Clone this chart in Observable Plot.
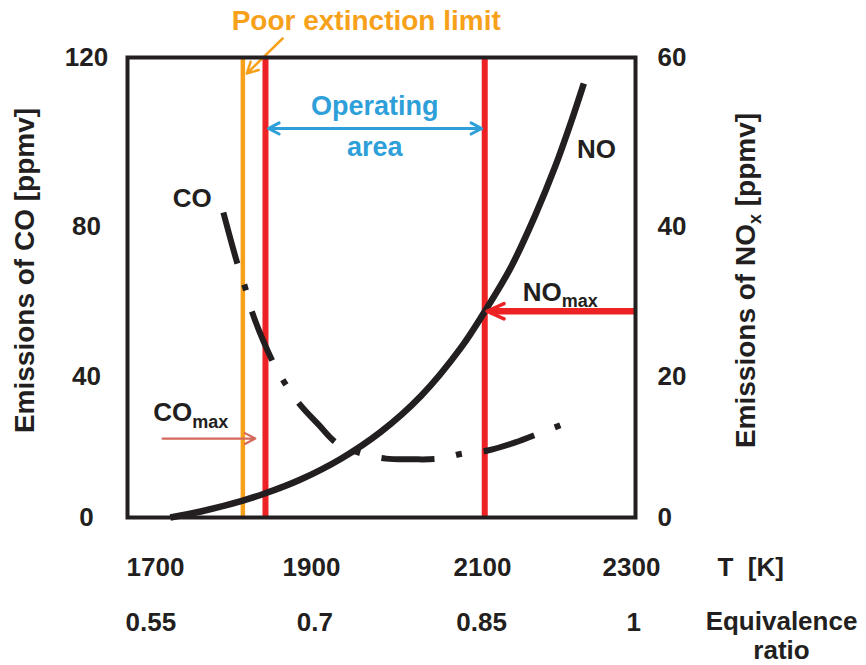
<!DOCTYPE html>
<html><head><meta charset="utf-8">
<script src="https://cdn.jsdelivr.net/npm/d3@7"></script>
<script src="https://cdn.jsdelivr.net/npm/@observablehq/plot@0.6"></script>
<style>html,body{margin:0;padding:0;background:#fff}</style>
</head><body><div id="chart"></div>
<script>
// ---- data ----
const T_TICKS = [1700, 1900, 2100, 2300];
const CO_TICKS = [0, 40, 80, 120];
const NOX_TICKS = [0, 20, 40, 60];
const PHI_LABELS = ["0.55", "0.7", "0.85", "1"];
const PHI_AT_T = [1694, 1904, 2099, 2303];

const NO_T   = [1719, 1758, 1812, 1840, 1886, 1934, 1981, 2028, 2074, 2103, 2138, 2171, 2198, 2218, 2236];
const NO_NOX = [0.0, 0.85, 2.41, 3.40, 5.39, 8.30, 12.14, 17.23, 23.71, 28.67, 34.53, 41.38, 47.20, 52.13, 56.93];

const CO_T   = [1787, 1805, 1815, 1824, 1837, 1851, 1867, 1885, 1908, 1930, 1958, 1987, 2018, 2050, 2078, 2107, 2144, 2179, 2212];
const CO_PPM = [83.3, 70.1, 63.7, 57.1, 50.1, 43.7, 37.7, 32.1, 26.4, 21.0, 18.2, 16.7, 16.5, 16.7, 18.2, 19.0, 21.3, 24.1, 26.8];

const POOR_EXTINCTION_T = 1812;
const OPERATING_T = [1841, 2103];
const NO_MAX_NOX = 28.7;
const CO_MAX_PPM = 22.4;

// ---- styles ----
const BLACK = "#231F20", ORANGE = "#F7A11A", RED = "#ED2224", BLUE = "#2E9FD9", SALMON = "#D4695E";
const NOX_TO_CO = CO_TICKS[CO_TICKS.length - 1] / NOX_TICKS[NOX_TICKS.length - 1];

const noData = NO_T.map((t, i) => ({T: t, v: NO_NOX[i] * NOX_TO_CO}));
const coData = CO_T.map((t, i) => ({T: t, v: CO_PPM[i]}));
const opMid = (OPERATING_T[0] + OPERATING_T[1]) / 2;

const chart = Plot.plot({
  width: 866, height: 665,
  marginLeft: 127, marginRight: 231, marginTop: 57, marginBottom: 148,
  x: {type: "linear", domain: T_TICKS, range: [155, 311, 482, 631]},
  y: {type: "linear", domain: CO_TICKS, range: [517, 376, 226, 57]},
  style: {fontFamily: "'Liberation Sans', Arial, sans-serif", fontWeight: "bold", color: BLACK, background: "#fff", overflow: "visible"},
  marks: [
    Plot.ruleX([POOR_EXTINCTION_T], {x: d => d, stroke: ORANGE, strokeWidth: 4.5}),
    Plot.ruleX(OPERATING_T, {x: d => d, stroke: RED, strokeWidth: 6}),
    Plot.line(coData, {x: "T", y: "v", stroke: BLACK, strokeWidth: 6, curve: "catmull-rom",
      strokeDasharray: "53,22,6,22", strokeLinecap: "butt"}),
    Plot.line(noData, {x: "T", y: "v", stroke: BLACK, strokeWidth: 6.5, curve: "catmull-rom", strokeLinecap: "butt"}),
    // operating area double arrow
    Plot.arrow(OPERATING_T, {x1: opMid, y1: 103.2, x2: d => d, y2: 103.2, insetEnd: 3,
      stroke: BLUE, strokeWidth: 3, headLength: 6, headAngle: 55}),
    // poor extinction arrow
    Plot.arrow([POOR_EXTINCTION_T], {x1: 1863, y1: 124.5, x2: 1817, y2: 116.2,
      stroke: ORANGE, strokeWidth: 2.5, headLength: 7.5, headAngle: 55}),
    // NOmax arrow: thick shaft + head
    Plot.link([NO_MAX_NOX], {x1: 2305, x2: 2110, y1: d => d * NOX_TO_CO, y2: d => d * NOX_TO_CO,
      stroke: RED, strokeWidth: 6.5}),
    Plot.arrow([NO_MAX_NOX], {x1: 2305, x2: 2106, y1: d => d * NOX_TO_CO, y2: d => d * NOX_TO_CO,
      stroke: RED, strokeWidth: 3.5, headLength: 8, headAngle: 48}),
    // COmax arrow
    Plot.arrow([CO_MAX_PPM], {x1: 1709, x2: 1828, y1: d => d, y2: d => d,
      stroke: SALMON, strokeWidth: 2.2, headLength: 8, headAngle: 55}),
    // annotations
    Plot.text(["Poor extinction limit"], {x: 1964, y: 126.6, fill: ORANGE, fontSize: 28, lineAnchor: "bottom"}),
    Plot.text(["Operating", "area"], {x: 1974, y: [106.3, 96.8], fill: BLUE, fontSize: 27, lineAnchor: "bottom"}),
    Plot.text(["CO"], {x: 1747, y: 84.5, fill: BLACK, fontSize: 26, lineAnchor: "bottom"}),
    Plot.text(["NO"], {x: 2253, y: 96.3, fill: BLACK, fontSize: 26, lineAnchor: "bottom"}),
    Plot.text(["NOmax"], {x: 2154, y: NO_MAX_NOX * NOX_TO_CO + 2.7, fill: BLACK, fontSize: 26, lineAnchor: "bottom", textAnchor: "start"}),
    Plot.text(["COmax"], {x: 1697, y: 27.5, fill: BLACK, fontSize: 26, lineAnchor: "bottom", textAnchor: "start"}),
    // axes
    Plot.axisY({anchor: "left", ticks: CO_TICKS, tickSize: 0, tickPadding: 41, textAnchor: "middle",
      fontSize: 26, fontWeight: "bold", label: null, tickFormat: d => String(d)}),
    Plot.axisY({anchor: "right", ticks: NOX_TICKS.map(v => v * NOX_TO_CO), tickSize: 0, tickPadding: 22, textAnchor: "start",
      fontSize: 26, fontWeight: "bold", label: null, tickFormat: d => String(d / NOX_TO_CO)}),
    Plot.axisX({anchor: "bottom", ticks: T_TICKS, tickSize: 0, tickPadding: 40,
      fontSize: 26, fontWeight: "bold", label: null, tickFormat: d => String(d)}),
    Plot.text(PHI_LABELS, {x: PHI_AT_T, frameAnchor: "bottom", dy: 105, lineAnchor: "middle", fontSize: 26, fill: BLACK}),
    // axis titles
    Plot.text(["T\u00a0\u00a0[K]"], {frameAnchor: "bottom-right", dx: 82, dy: 50, textAnchor: "start", lineAnchor: "middle", fontSize: 26, fill: BLACK}),
    Plot.text(["Equivalence\nratio"], {frameAnchor: "bottom-right", dx: 146, dy: 118, textAnchor: "middle", lineAnchor: "middle", lineHeight: 1.12, fontSize: 26, fill: BLACK}),
    Plot.text(["Emissions of CO [ppmv]"], {frameAnchor: "left", dx: -102, dy: -17, rotate: -90, textAnchor: "middle", lineAnchor: "middle", fontSize: 28, fill: BLACK}),
    Plot.text(["Emissions of NOx [ppmv]"], {frameAnchor: "right", dx: 111, dy: -7, rotate: -90, textAnchor: "middle", lineAnchor: "middle", fontSize: 28, fill: BLACK}),
    Plot.frame({stroke: BLACK, strokeWidth: 4})
  ]
});

// subscripts
function subscript(el, base, sub, after, size, shift) {
  el.textContent = "";
  const ns = "http://www.w3.org/2000/svg";
  const a = document.createElementNS(ns, "tspan"); a.textContent = base; el.appendChild(a);
  const b = document.createElementNS(ns, "tspan"); b.textContent = sub;
  b.setAttribute("font-size", size); b.setAttribute("dy", shift); el.appendChild(b);
  if (after) {
    const c = document.createElementNS(ns, "tspan"); c.textContent = after;
    c.setAttribute("dy", -shift); el.appendChild(c);
  }
}
chart.querySelectorAll("text").forEach(el => {
  const t = el.textContent;
  if (t === "NOmax") subscript(el, "NO", "max", null, 18, 6);
  else if (t === "COmax") subscript(el, "CO", "max", null, 18, 7);
  else if (t === "Emissions of NOx [ppmv]") subscript(el, "Emissions of NO", "x", "\u00a0[ppmv]", 18, 6);
});
document.getElementById("chart").appendChild(chart);
</script></body></html>
